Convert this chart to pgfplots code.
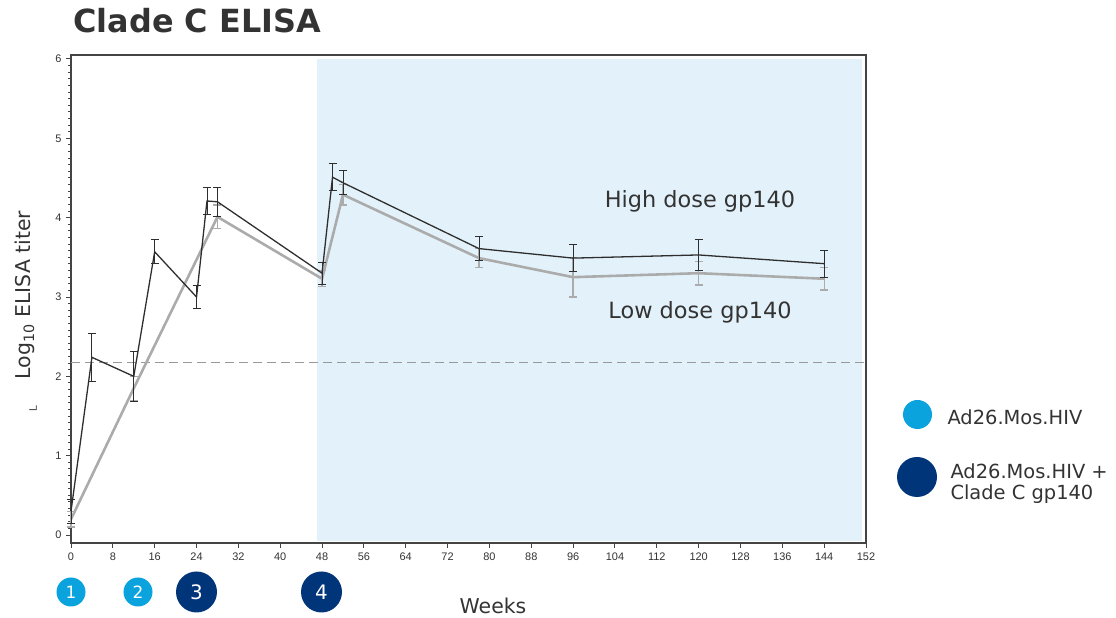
\documentclass[border=0pt]{standalone}
\usepackage{fontspec}
\setmainfont{DejaVu Sans}
\newfontfamily\tickfont{Liberation Sans}
\usepackage{pgfplots}
\pgfplotsset{compat=1.18}

\definecolor{txt}{HTML}{333333}
\definecolor{shade}{HTML}{E3F2FA}
\definecolor{lightdot}{HTML}{0AA3DD}
\definecolor{navydot}{HTML}{00357A}
\definecolor{highline}{HTML}{2E2E2E}
\definecolor{lowline}{HTML}{ABABAB}
\definecolor{axisgray}{HTML}{444444}

\begin{document}
\begin{tikzpicture}[x=1bp,y=1bp]
\begin{axis}[
  at={(71bp,75bp)}, anchor=south west,
  scale only axis, width=795bp, height=488bp,
  xmin=0, xmax=152, ymin=-0.1, ymax=6.05,
  axis line style={axisgray, line width=1.2pt},
  xtick={0,8,...,152},
  ytick={0,1,...,6},
  minor y tick num=11,
  tick align=outside,
  tick pos=left,
  tick style={axisgray, line width=1pt},
  major tick length=5bp, minor tick length=3bp,
  /pgf/number format/assume math mode=true,
  tick label style={font=\tickfont\fontsize{11}{12}\selectfont, text=txt},
  xticklabel style={yshift=-1bp},
  yticklabel style={xshift=-1bp},
  clip=false,
]
% follow-up period
\addplot[fill=shade, draw=none] coordinates {(47,-0.08) (151.3,-0.08) (151.3,6.0) (47,6.0)} -- cycle;
% threshold
\addplot[color=gray!80, line width=1pt, dash pattern=on 9bp off 5bp] coordinates {(0,2.17) (152,2.17)};

% low dose gp140
\addplot[color=lowline, line width=2.6pt, mark=none,
  error bars/.cd, y dir=both, y explicit,
  error bar style={lowline, line width=1.3pt},
  error mark options={rotate=90, mark size=4bp, line width=1.3pt, lowline}]
  table[x=w, y=v, y error=e] {
w v e
0 0.20 0.10
12 1.85 0.15
28 4.01 0.15
48 3.23 0.10
52 4.29 0.13
78 3.49 0.12
96 3.25 0.25
120 3.30 0.15
144 3.23 0.14
};

% high dose gp140
\addplot[color=highline, line width=1.3pt, mark=none,
  error bars/.cd, y dir=both, y explicit,
  error bar style={highline, line width=0.9pt},
  error mark options={rotate=90, mark size=4bp, line width=0.9pt, highline}]
  table[x=w, y=v, y error=e] {
w v e
0 0.30 0.15
4 2.24 0.30
12 2.00 0.31
16 3.57 0.15
24 3.00 0.15
26 4.21 0.17
28 4.20 0.18
48 3.30 0.14
50 4.51 0.17
52 4.44 0.15
78 3.61 0.15
96 3.49 0.17
120 3.53 0.19
144 3.42 0.17
};
\end{axis}

% title and axis titles
\node[anchor=base west, text=txt, font=\bfseries\fontsize{32}{38}\selectfont] at (70,585) {Clade C ELISA};
\node[anchor=center, text=txt, font=\fontsize{20.5}{24}\selectfont] at (493,12) {Weeks};
\node[anchor=center, rotate=90, text=txt, font=\fontsize{20.5}{24}\selectfont] at (25,323) {Log\textsubscript{10} ELISA titer};
\node[anchor=center, rotate=90, text=axisgray, font=\tickfont\fontsize{11}{12}\selectfont] at (33,210) {L};

% series annotations
\node[anchor=center, text=txt, font=\fontsize{22.5}{26}\selectfont] at (700,417) {High dose gp140};
\node[anchor=center, text=txt, font=\fontsize{22.5}{26}\selectfont] at (700,306) {Low dose gp140};

% vaccination visits
\fill[lightdot] (71,26) circle (14.5);
\node[text=white, font=\fontsize{17}{20}\selectfont] at (71,26) {1};
\fill[lightdot] (138,26) circle (14.5);
\node[text=white, font=\fontsize{17}{20}\selectfont] at (138,26) {2};
\fill[navydot] (196.5,26) circle (20.5);
\node[text=white, font=\fontsize{20}{24}\selectfont] at (196.5,26) {3};
\fill[navydot] (321.5,26) circle (20.5);
\node[text=white, font=\fontsize{20}{24}\selectfont] at (321.5,26) {4};

% key
\fill[lightdot] (917.5,203.5) circle (14.5);
\node[anchor=base west, text=txt, font=\fontsize{19.5}{22}\selectfont] at (944,193) {Ad26.Mos.HIV};
\fill[navydot] (917,141) circle (20);
\node[anchor=base west, text=txt, font=\fontsize{19.5}{22}\selectfont] at (947,139) {Ad26.Mos.HIV +};
\node[anchor=base west, text=txt, font=\fontsize{19.5}{22}\selectfont] at (947,118) {Clade C gp140};

\pgfresetboundingbox
\useasboundingbox (0,0) rectangle (1116,618);
\end{tikzpicture}
\end{document}
